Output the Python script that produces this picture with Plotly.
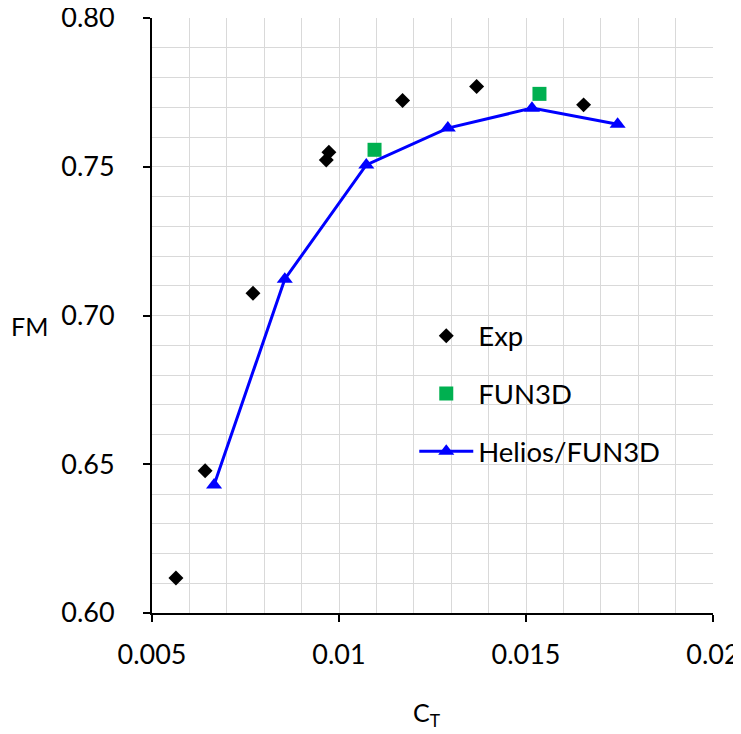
import plotly.graph_objects as go

# Data
exp_ct = [0.00564, 0.00642, 0.00770, 0.00966, 0.00973, 0.01170, 0.01368, 0.01654]
exp_fm = [0.6118, 0.6478, 0.7075, 0.7523, 0.7549, 0.7723, 0.7770, 0.7708]

fun3d_ct = [0.01095, 0.01536]
fun3d_fm = [0.7557, 0.7745]

helios_ct = [0.00666, 0.00855, 0.01073, 0.01291, 0.01516, 0.01745]
helios_fm = [0.6430, 0.7122, 0.7506, 0.7630, 0.7697, 0.7643]

x_tickvals = [0.005, 0.01, 0.015, 0.02]
x_ticktext = ["0.005", "0.01", "0.015", "0.02"]
y_tickvals = [0.60, 0.65, 0.70, 0.75, 0.80]
y_ticktext = ["0.60", "0.65", "0.70", "0.75", "0.80"]

FONT = "Lato"
GRID = "#d9d9d9"

fig = go.Figure()
fig.add_trace(go.Scatter(
    x=exp_ct, y=exp_fm, mode="markers", name="Exp", legendgroup="a",
    marker=dict(symbol="diamond", size=11.5, color="black"),
))
fig.add_trace(go.Scatter(
    x=fun3d_ct, y=fun3d_fm, mode="markers", name="FUN3D", legendgroup="b",
    marker=dict(symbol="square", size=14, color="#00B050"),
))
fig.add_trace(go.Scatter(
    x=helios_ct, y=helios_fm, mode="lines+markers", name="Helios/FUN3D", legendgroup="c",
    line=dict(color="#0000FF", width=3),
    marker=dict(symbol="triangle-up", size=14, color="#0000FF"),
))

# white legend background panel (between grid and data)
fig.add_shape(type="rect", xref="paper", yref="paper",
              x0=0.3797, x1=0.9643, y0=0.2235, y1=0.5176,
              fillcolor="white", line=dict(width=0), layer="between")

# page body has an 8px default margin; figure is sized to fill the 741x734 window
fig.update_layout(
    width=733, height=726,
    margin=dict(l=144, r=28, t=10, b=121, autoexpand=False),
    paper_bgcolor="white", plot_bgcolor="white",
    font=dict(family=FONT, size=26, color="black"),
    showlegend=True,
    legend=dict(
        x=0.4675, y=0.507, xanchor="left", yanchor="top",
        bgcolor="rgba(0,0,0,0)", borderwidth=0,
        font=dict(family=FONT, size=27.5, color="black"),
        traceorder="grouped", tracegroupgap=19, itemwidth=54,
    ),
    annotations=[
        dict(text="FM", xref="paper", yref="paper", x=-0.2175, y=0.482,
             xanchor="center", yanchor="middle", showarrow=False,
             font=dict(family=FONT, size=25, color="black")),
        dict(text="C<sub>T</sub>", xref="paper", yref="paper", x=0.49, y=-0.169,
             xanchor="center", yanchor="middle", showarrow=False,
             font=dict(family=FONT, size=25, color="black")),
    ],
)

fig.update_xaxes(
    range=[0.005, 0.02], tickmode="array", tickvals=x_tickvals, ticktext=x_ticktext,
    automargin=False, ticklabeloverflow="allow",
    showline=True, linecolor="black", linewidth=2,
    ticks="outside", ticklen=7, tickwidth=2, tickcolor="black",
    showgrid=True, gridcolor=GRID, gridwidth=1, zeroline=False,
    minor=dict(dtick=0.001, tick0=0.005, showgrid=True, gridcolor=GRID, gridwidth=1, ticks=""),
    ticklabelstandoff=10,
    tickfont=dict(family=FONT, size=27, color="black"),
)
fig.update_yaxes(
    range=[0.60, 0.80], tickmode="array", tickvals=y_tickvals, ticktext=y_ticktext,
    automargin=False, ticklabeloverflow="allow",
    showline=True, linecolor="black", linewidth=2,
    ticks="outside", ticklen=7, tickwidth=2, tickcolor="black",
    showgrid=True, gridcolor=GRID, gridwidth=1, zeroline=False,
    minor=dict(dtick=0.01, tick0=0.60, showgrid=True, gridcolor=GRID, gridwidth=1, ticks=""),
    ticklabelstandoff=23,
    tickfont=dict(family=FONT, size=27, color="black"),
)

fig.write_html("out.html")
